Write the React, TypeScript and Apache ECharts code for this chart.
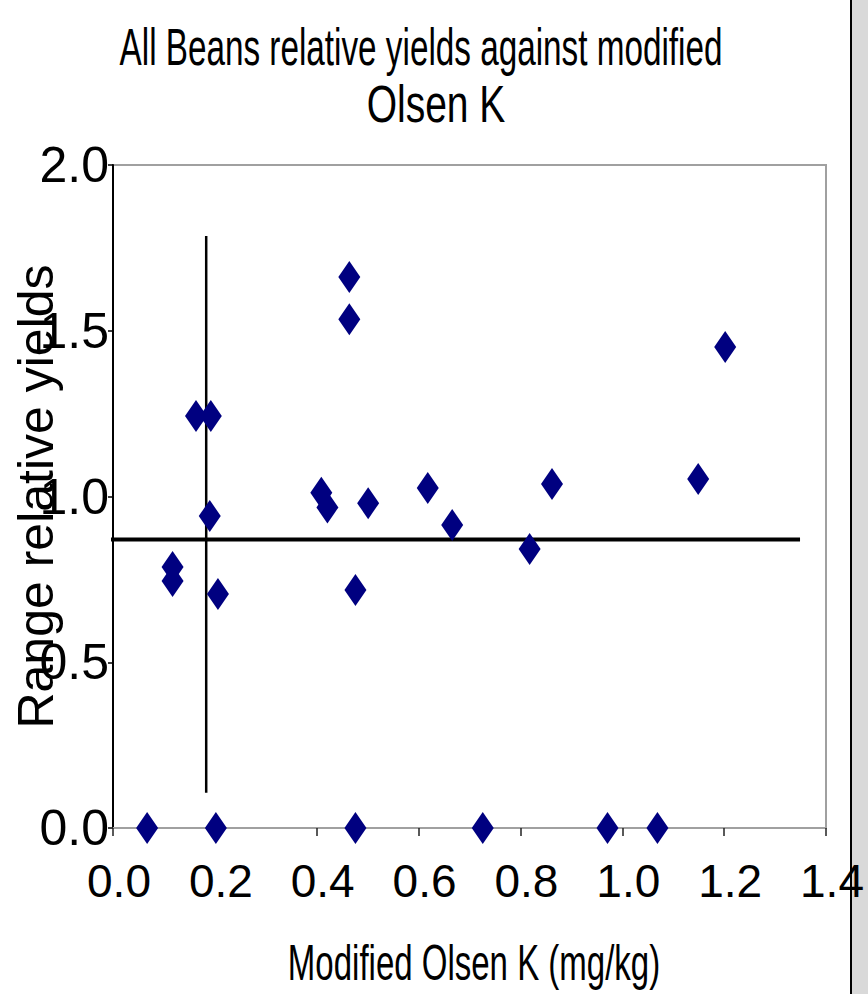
import React, { useEffect, useRef } from "react";
import * as echarts from "echarts";

const titleLines = ["All Beans relative yields against modified", "Olsen K"];
const xAxisTitle = "Modified Olsen K (mg/kg)";
const yAxisTitle = "Range relative yields";

const xMin = 0;
const xMax = 1.4;
const xStep = 0.2;
const yMin = 0;
const yMax = 2.0;
const yStep = 0.5;

// Modified Olsen K (mg/kg) and relative yield of each observation
const olsenK = [
  0.067, 0.202, 0.476, 0.726, 0.971, 1.069,
  0.117, 0.117, 0.163, 0.192, 0.19, 0.206,
  0.409, 0.421, 0.501, 0.476, 0.464, 0.464,
  0.618, 0.666, 0.818, 0.862, 1.149, 1.202,
];
const relYield = [
  0, 0, 0, 0, 0, 0,
  0.787, 0.745, 1.243, 1.243, 0.941, 0.706,
  1.011, 0.967, 0.98, 0.718, 1.662, 1.535,
  1.026, 0.914, 0.842, 1.038, 1.053, 1.451,
];

// Horizontal plateau line and vertical critical-K line
const plateauYield = 0.87;
const plateauSpan = [-0.01, 1.349];
const criticalK = 0.183;
const criticalSpan = [0.106, 1.786];

export default function App() {
  const ref = useRef<HTMLDivElement>(null);

  useEffect(() => {
    if (!ref.current) return;
    const chart = echarts.init(ref.current, null, { renderer: "svg" });
    const font = '"Liberation Sans", Arial, sans-serif';
    const points = olsenK.map((x, i) => [x, relYield[i]]);

    chart.setOption({
      animation: false,
      backgroundColor: "#ffffff",
      textStyle: { fontFamily: font },
      grid: {
        left: 113,
        right: 42,
        top: 165,
        bottom: 166,
        show: true,
        borderColor: "#a0a0a0",
        borderWidth: 2,
        backgroundColor: "#ffffff",
        containLabel: false,
        outerBoundsMode: "none",
      },
      xAxis: {
        type: "value",
        min: xMin,
        max: xMax,
        interval: xStep,
        axisLine: { show: true, onZero: false, lineStyle: { color: "#a0a0a0", width: 2 } },
        axisTick: { show: true, inside: false, length: 8, lineStyle: { color: "#222", width: 1.5 } },
        axisLabel: {
          color: "#000",
          fontSize: 46,
          fontFamily: font,
          margin: 30,
          padding: [0, 0, 0, 12],
          formatter: (v: number) => v.toFixed(1),
        },
        splitLine: { show: false },
      },
      yAxis: {
        type: "value",
        min: yMin,
        max: yMax,
        interval: yStep,
        name: yAxisTitle,
        nameLocation: "middle",
        nameGap: 52,
        nameMoveOverlap: false,
        nameTextStyle: { color: "#000", fontSize: 50, fontFamily: font },
        axisLine: { show: true, onZero: false, lineStyle: { color: "#000", width: 2 } },
        axisTick: { show: true, inside: false, length: 5, lineStyle: { color: "#000", width: 1.5 } },
        axisLabel: {
          color: "#000",
          fontSize: 50,
          fontFamily: font,
          margin: 4,
          padding: [0, 0, 8, 0],
          formatter: (v: number) => v.toFixed(1),
        },
        splitLine: { show: false },
      },
      series: [
        {
          type: "line",
          data: [
            [plateauSpan[0], plateauYield],
            [plateauSpan[1], plateauYield],
          ],
          symbol: "none",
          clip: false,
          lineStyle: { color: "#000", width: 4 },
          z: 3,
        },
        {
          type: "line",
          data: [
            [criticalK, criticalSpan[0]],
            [criticalK, criticalSpan[1]],
          ],
          symbol: "none",
          clip: false,
          lineStyle: { color: "#000", width: 2.5 },
          z: 3,
        },
        {
          type: "scatter",
          data: points,
          symbol: "diamond",
          symbolSize: [22, 32],
          itemStyle: { color: "#000080", opacity: 1 },
          z: 5,
        },
      ],
      graphic: [
        {
          type: "text",
          x: 421,
          y: 47,
          scaleX: 0.64,
          style: {
            text: titleLines[0],
            fill: "#000",
            fontSize: 52,
            fontFamily: font,
            align: "center",
            verticalAlign: "middle",
          },
        },
        {
          type: "text",
          x: 436,
          y: 104,
          scaleX: 0.75,
          style: {
            text: titleLines[1],
            fill: "#000",
            fontSize: 52,
            fontFamily: font,
            align: "center",
            verticalAlign: "middle",
          },
        },
        {
          type: "text",
          x: 474,
          y: 963,
          scaleX: 0.66,
          style: {
            text: xAxisTitle,
            fill: "#000",
            fontSize: 50,
            fontFamily: font,
            align: "center",
            verticalAlign: "middle",
          },
        },
        {
          type: "rect",
          z: -10,
          shape: { x: 852, y: 0, width: 16, height: 994 },
          style: { fill: "#d9d9d9" },
          silent: true,
        },
        {
          type: "line",
          z: -10,
          shape: { x1: 851, y1: 0, x2: 851, y2: 994 },
          style: { stroke: "#000", lineWidth: 2 },
          silent: true,
        },
      ],
    });

    return () => chart.dispose();
  }, []);

  return (
    <div
      ref={ref}
      style={{ position: "fixed", left: 0, top: 0, width: 868, height: 994 }}
    />
  );
}
